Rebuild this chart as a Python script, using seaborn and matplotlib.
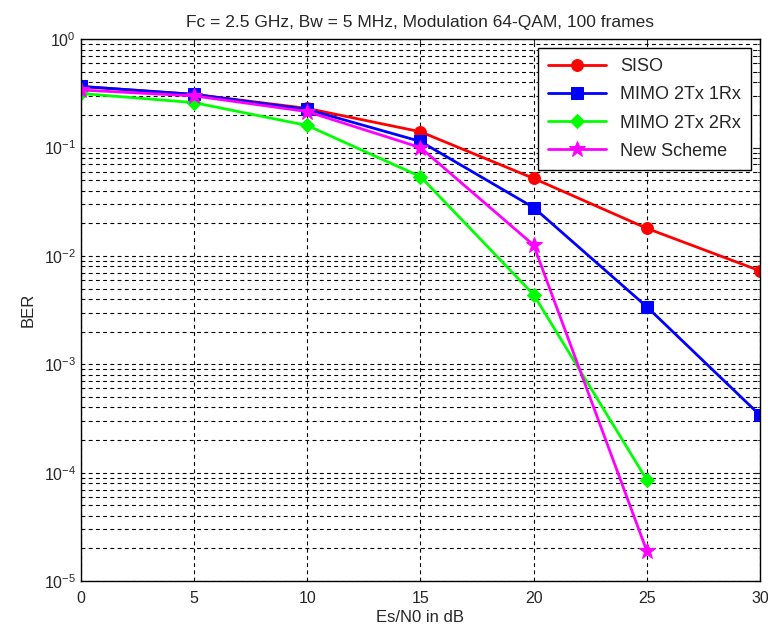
import matplotlib
matplotlib.use("Agg")
import matplotlib.pyplot as plt
import seaborn as sns
import numpy as np
import pandas as pd

snr = [0, 5, 10, 15, 20, 25, 30]
siso = [0.367, 0.31, 0.23, 0.14, 0.052, 0.018, 0.0073]
mimo21 = [0.367, 0.31, 0.225, 0.114, 0.028, 0.0034, 0.00034]
mimo22 = [0.316, 0.26, 0.16, 0.054, 0.0044, 8.6e-5]
newsch = [0.34, 0.30, 0.215, 0.10, 0.0126, 1.9e-5]

series = [
    ("SISO", snr, siso, "#ff0000", "o", 8.5),
    ("MIMO 2Tx 1Rx", snr, mimo21, "#0000ff", "s", 9),
    ("MIMO 2Tx 2Rx", snr[:6], mimo22, "#00ff00", "D", 7),
    ("New Scheme", snr[:6], newsch, "#ff00ff", "*", 12),
]

sns.set_style("white")
plt.rcParams['font.family'] = ['Liberation Sans', 'DejaVu Sans']

fig = plt.figure(figsize=(7.68, 6.33), dpi=100)
ax = fig.add_axes([0.1055, 0.082, 0.884, 0.856])

for name, xs, ys, col, mk, ms in series:
    df = pd.DataFrame({"x": xs, "y": ys})
    sns.lineplot(data=df, x="x", y="y", ax=ax, color=col, marker=mk,
                 markersize=ms, linewidth=2, markeredgecolor=col,
                 label=name)

ax.set_yscale("log")
ax.set_xlim(0, 30)
ax.set_ylim(1e-5, 1)
ax.set_xticks([0, 5, 10, 15, 20, 25, 30])
ax.grid(True, which="major", axis="both", color="black", linestyle=(0, (3.5, 3)), linewidth=0.8)
ax.grid(True, which="minor", axis="y", color="black", linestyle=(0, (3.5, 3)), linewidth=0.8)
ax.tick_params(which="both", direction="in", labelsize=11.5, top=True, right=True)
ax.tick_params(axis="x", pad=7)
for sp in ax.spines.values():
    sp.set_color("black")
    sp.set_linewidth(1)

ax.set_xlabel("Es/N0 in dB", fontsize=12, labelpad=3)
ax.set_ylabel("BER", fontsize=12, labelpad=6)
ax.set_title("Fc = 2.5 GHz, Bw = 5 MHz, Modulation 64-QAM, 100 frames", fontsize=12.5, pad=9)

leg = ax.legend(loc="upper right", fontsize=13, frameon=True, fancybox=False,
                edgecolor="black", framealpha=1, handlelength=3.2,
                borderaxespad=0.5, labelspacing=0.62, borderpad=0.55)
leg.get_frame().set_linewidth(1)

fig.savefig("out.png", dpi=100)
